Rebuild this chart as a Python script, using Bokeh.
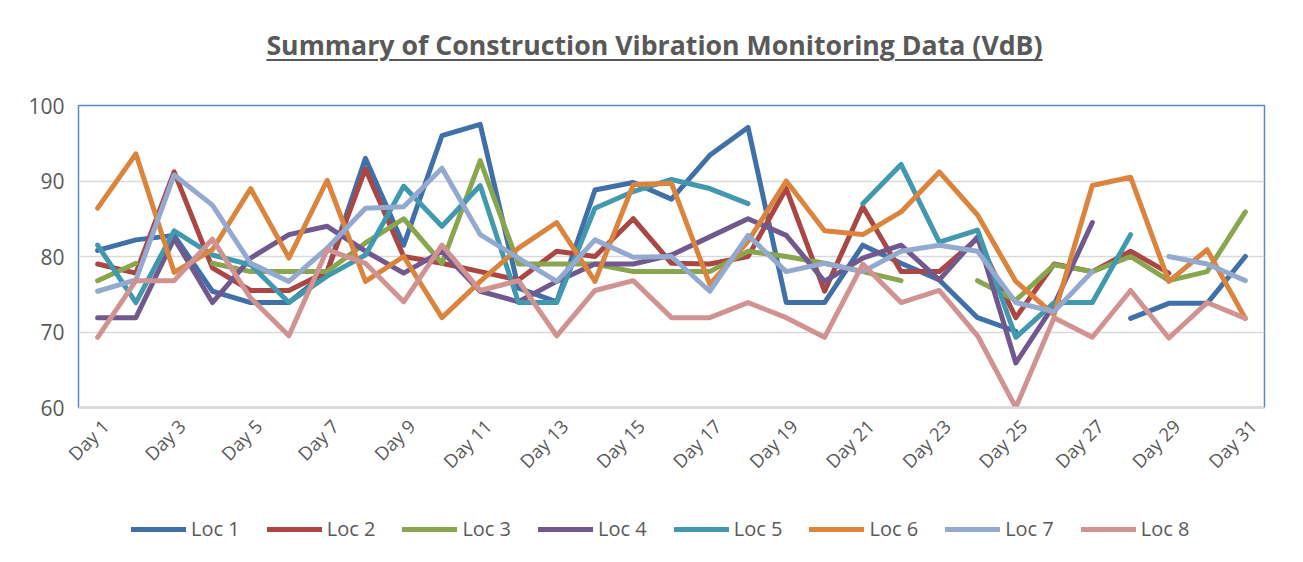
import numpy as np
from bokeh.plotting import figure
from bokeh.models import Legend, LegendItem, Div, Range1d, FixedTicker, ColumnDataSource
from bokeh.layouts import column
from bokeh.embed import file_html
from bokeh.resources import INLINE

day_numbers = list(range(1, 32))
day_labels = ["Day %d" % i for i in day_numbers]
shown_days = [1, 3, 5, 7, 9, 11, 13, 15, 17, 19, 21, 23, 25, 27, 29, 31]
y_ticks = [60, 70, 80, 90, 100]

loc1 = [80.8, 82.2, 82.8, 75.4, 73.9, 73.9, 78.0, 93.0, 81.5, 96.0, 97.5, 75.8, 74.0, 88.8, 89.8, 87.6,
        93.4, 97.1, 73.9, 73.9, 81.5, 79.1, 76.9, 71.9, 70.1, None, None, 71.8, 73.8, 73.8, 80.0]
loc2 = [79.0, 77.8, 91.2, 78.5, 75.5, 75.5, 78.0, 91.6, 80.0, 79.1, 78.0, 76.9, 80.7, 80.0, 85.0, 79.1,
        79.0, 80.0, 89.0, 75.4, 86.6, 78.0, 78.0, 82.4, 71.9, 79.0, 78.0, 80.7, 77.8, None, None]
loc3 = [76.8, 79.1, None, 79.1, 78.0, 78.0, 78.0, 81.8, 85.0, 79.1, 92.7, 79.0, 79.0, 79.0, 78.0, 78.0,
        78.0, 80.7, 80.0, 79.1, 78.0, 76.8, None, 76.8, 74.2, 78.9, 78.0, 80.0, 76.8, 78.0, 85.9]
loc4 = [71.9, 71.9, 82.4, 73.9, 79.8, 82.9, 84.0, 80.7, 77.8, 80.7, 75.4, 74.0, 76.7, 79.0, 79.0, 80.2,
        82.6, 85.0, 82.8, 76.7, 79.8, 81.5, 76.9, 82.6, 65.9, 73.6, 84.5, None, None, None, None]
loc5 = [81.5, 73.9, 83.4, 80.2, 78.9, 73.9, 77.4, 80.2, 89.3, 84.0, 89.4, 73.9, 73.9, 86.4, 88.6, 90.2,
        89.0, 87.0, None, None, 87.0, 92.2, 81.9, 83.5, 69.3, 73.9, 73.9, 82.9, None, None, None]
loc6 = [86.4, 93.6, 77.9, 80.9, 89.0, 79.8, 90.1, 76.7, 80.0, 71.9, 76.7, 81.1, 84.5, 76.7, 89.5, 89.7,
        76.3, 82.0, 90.0, 83.4, 82.9, 85.9, 91.2, 85.5, 76.7, 72.3, 89.4, 90.5, 76.7, 80.9, 71.8]
loc7 = [75.4, 76.9, 90.8, 86.8, 79.1, 76.7, 81.1, 86.4, 86.6, 91.7, 82.9, 79.8, 76.7, 82.2, 79.9, 80.0,
        75.4, 82.8, 78.0, 79.1, 78.0, 80.7, 81.5, 80.7, 73.9, 72.7, 78.0, None, 80.0, 79.0, 76.8]
loc8 = [69.3, 76.8, 76.8, 82.3, 74.5, 69.5, 80.9, 79.1, 74.0, 81.5, 75.5, 76.8, 69.5, 75.5, 76.8, 71.9,
        71.9, 73.9, 71.9, 69.3, 79.0, 73.9, 75.5, 69.5, 60.0, 71.9, 69.3, 75.5, 69.2, 73.9, 71.8]

series_names = ["Loc 1", "Loc 2", "Loc 3", "Loc 4", "Loc 5", "Loc 6", "Loc 7", "Loc 8"]
series_values = [loc1, loc2, loc3, loc4, loc5, loc6, loc7, loc8]
colors = ["#4170A8", "#AA4643", "#89A54E", "#71588F", "#4198AF", "#DB843D", "#93A9CF", "#D19392"]

TEXT = "#595959"
FONT = "Open Sans"

title = Div(
    text='<div style="text-align:center;width:1287px;position:relative;left:6px;'
         'font-family:\'Open Sans\';font-weight:bold;'
         'font-size:26.7px;color:#595959;text-decoration:underline;text-decoration-thickness:2px;'
         'text-underline-offset:4px;padding-top:21px;">'
         'Summary of Construction Vibration Monitoring Data (VdB)</div>',
    width=1287, height=55)

p = figure(width=1287, height=419, x_range=Range1d(0.5, 31.5),
           y_range=Range1d(60, 100), output_backend="svg", toolbar_location=None,
           min_border_left=78, min_border_right=23, min_border_top=40, min_border_bottom=75)

# legend strip: same series drawn in a strip whose y-range excludes the data
lg = figure(width=1287, height=72, x_range=Range1d(0.5, 31.5), y_range=Range1d(0, 1),
            output_backend="svg", toolbar_location=None,
            min_border_left=0, min_border_right=0, min_border_top=0, min_border_bottom=0)
lg.axis.visible = False
lg.grid.visible = False
lg.outline_line_color = None

items = []
for name, vals, col in zip(series_names, series_values, colors):
    y = np.array([np.nan if v is None else v for v in vals], dtype=float)
    src = ColumnDataSource(dict(x=day_numbers, y=y))
    p.line("x", "y", source=src, line_color=col, line_width=5, line_join="round", line_cap="round")
    r = lg.line("x", "y", source=src, line_color=col, line_width=5, line_cap="round")
    items.append(LegendItem(label=name, renderers=[r]))

p.outline_line_color = "#5B89C4"
p.outline_line_width = 1.5
p.xgrid.grid_line_color = None
p.ygrid.grid_line_color = "#D9D9D9"
p.ygrid.grid_line_width = 1.5
p.yaxis.ticker = FixedTicker(ticks=y_ticks)
p.yaxis.axis_line_color = None
p.yaxis.major_tick_line_color = None
p.yaxis.minor_tick_line_color = None
p.yaxis.major_label_text_font = FONT
p.yaxis.major_label_text_font_size = "21px"
p.yaxis.major_label_text_color = TEXT
p.yaxis.major_label_standoff = 8

# rotated labels anchored like Excel (their top-right corner at the category position)
label_pos = [d + 0.2 for d in shown_days]
p.xaxis.ticker = FixedTicker(ticks=label_pos)
p.xaxis.axis_line_color = "#D9D9D9"
p.xaxis.axis_line_width = 2
p.xaxis.major_tick_line_color = None
p.xaxis.minor_tick_line_color = None
p.xaxis.major_label_orientation = np.pi / 4
p.xaxis.major_label_text_font = FONT
p.xaxis.major_label_text_font_size = "18.5px"
p.xaxis.major_label_text_color = TEXT
p.xaxis.major_label_standoff = 9
p.xaxis.major_label_overrides = {pos: day_labels[d - 1] for pos, d in zip(label_pos, shown_days)}

legend = Legend(items=items, orientation="horizontal", location=(53, 14),
                glyph_width=55, glyph_height=20, label_standoff=5, spacing=27,
                label_text_font=FONT, label_text_font_size="20px", label_text_color=TEXT,
                border_line_color=None, background_fill_alpha=0, padding=0, margin=0)
lg.add_layout(legend)

layout = column(title, p, lg, spacing=0)
open("out.html", "w").write(file_html(layout, INLINE))
